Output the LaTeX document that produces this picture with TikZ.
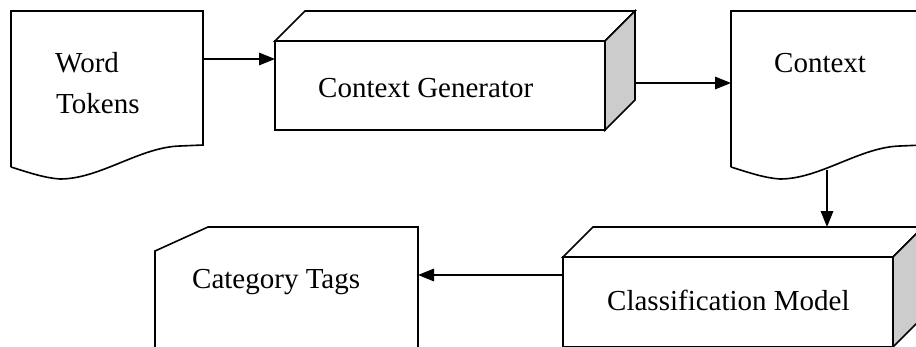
\documentclass[tikz,border=0pt]{standalone}
\usepackage{fontspec}
\setmainfont{Liberation Serif}
\usetikzlibrary{arrows.meta,calc}

\tikzset{
  outline/.style={draw=black, line width=1.6pt, line join=miter},
  body/.style={rectangle, inner sep=0pt, outer sep=0pt, draw=none},
  face/.style={rectangle, inner sep=0pt, outer sep=0pt, outline, fill=white},
  side/.style={outline, fill=black!20},
  top/.style={outline, fill=white},
  label/.style={anchor=base west, inner sep=0pt, font=\fontsize{29}{35}\selectfont},
  arr/.style={line width=1.6pt, -{Triangle[length=16pt,width=12.5pt]}},
}

\begin{document}
\begin{tikzpicture}[x=1pt, y=-1pt]
  \useasboundingbox (0,0) rectangle (916,346);
  \clip (0,0) rectangle (916,346);

  % ---- Word Tokens (document shape) ----
  \node[body, minimum width=192pt, minimum height=134pt] (wt) at (107,78) {};
  \draw[outline, fill=white] (11,167) -- (11,11) -- (203,11) -- (203,145) -- (180,146)
    .. controls (140,147) and (100,179) .. (60,179)
    .. controls (45,178) and (30,173) .. (11,167);
  \node[label] (wt-l1) at (55,72) {Word};
  \node[label] (wt-l2) at (56,113) {Tokens};

  % ---- Context Generator (3D box) ----
  \node[face, minimum width=330pt, minimum height=89pt] (gen) at (440,85.5) {};
  \draw[top] (gen.north west) -- ++(30,-30) -- ++(330,0) -- (gen.north east) -- cycle;
  \draw[side] (gen.north east) -- ++(30,-30) -- ++(0,89) -- (gen.south east) -- cycle;
  \node[label] (gen-l) at (318,97) {Context Generator};

  % ---- Context (document shape) ----
  \node[body, minimum width=192pt, minimum height=134pt] (ctx) at (827,78) {};
  \draw[outline, fill=white] (731,167) -- (731,11) -- (923,11) -- (923,145) -- (900,146)
    .. controls (860,147) and (820,179) .. (780,179)
    .. controls (765,178) and (750,173) .. (731,167);
  \node[label] (ctx-l) at (774,72) {Context};

  % ---- Classification Model (3D box) ----
  \node[face, minimum width=330pt, minimum height=90pt] (cls) at (728,302) {};
  \draw[top] (cls.north west) -- ++(30,-30) -- ++(330,0) -- (cls.north east) -- cycle;
  \draw[side] (cls.north east) -- ++(30,-30) -- ++(0,90) -- (cls.south east) -- cycle;
  \node[label] (cls-l) at (607,310) {Classification Model};

  % ---- Category Tags (card shape) ----
  \node[body, minimum width=263pt, minimum height=173pt] (tags) at (286.5,313.5) {};
  \draw[outline, fill=white] (tags.south west) -- (155,251) -- (208,227)
    -- (tags.north east) -- (tags.south east);
  \node[label] (tags-l) at (192,288) {Category Tags};

  % ---- connectors ----
  \draw[arr] ($(wt.north east)+(0,48)$) -- ($(gen.north west)+(0,18)$);
  \draw[arr] ($(gen.east)+(30,-2.5)$) -- ($(ctx.west)+(0,5)$);
  \draw[arr] ($(ctx.south)+(0,25)$) -- ($(ctx.south |- cls.north)+(0,-30)$);
  \draw[arr] ($(cls.north west)+(0,18)$) -- ($(tags.north east)+(0,48)$);
\end{tikzpicture}
\end{document}
